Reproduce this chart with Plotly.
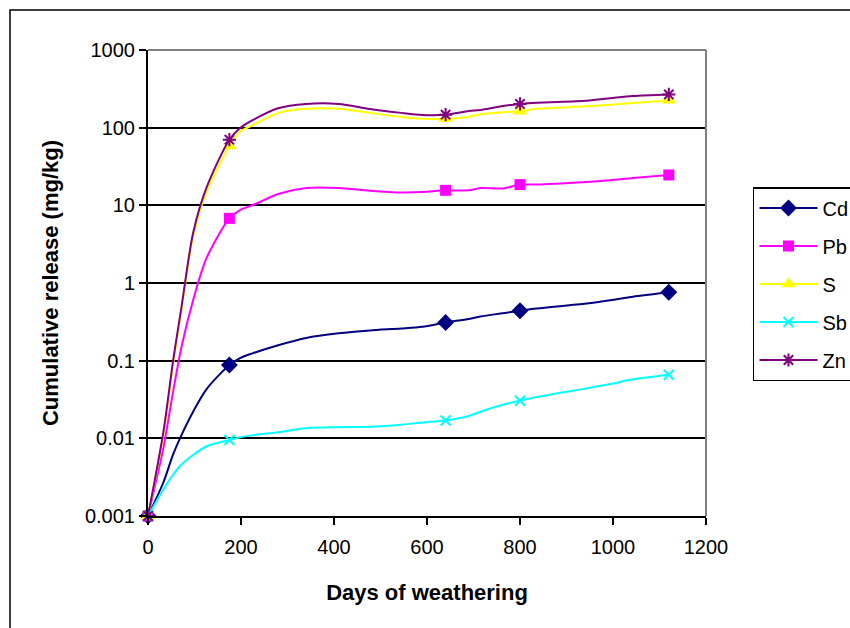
import plotly.graph_objects as go

days = [0, 33, 54, 72, 97, 126, 175, 198, 226, 280, 340, 410, 477, 545, 590,
        640, 690, 715, 763, 800, 836, 943, 994, 1043, 1120]
marker_days = [0, 175, 640, 800, 1120]

cd = [0.001, 0.0027, 0.0062, 0.011, 0.022, 0.043, 0.088, 0.108, 0.125, 0.158, 0.196,
      0.225, 0.245, 0.26, 0.274, 0.31, 0.345, 0.37, 0.408, 0.44, 0.47, 0.545, 0.6, 0.667, 0.76]
pb = [0.001, 0.0075, 0.04, 0.15, 0.6, 2.1, 6.8, 8.7, 10.1, 14, 16.7, 16.7, 15.4, 14.6,
      14.8, 15.6, 15.6, 16.7, 16.5, 18.5, 18.5, 20, 21, 22.5, 24.6]
s = [0.001, 0.011, 0.09, 0.45, 4.0, 15, 58, 89, 108, 155, 175, 175, 155, 137, 130, 130,
     138, 149, 158, 163, 175, 188, 197, 208, 225]
sb = [0.001, 0.0022, 0.0034, 0.0046, 0.0061, 0.0079, 0.0095, 0.0103, 0.011, 0.012, 0.0135,
      0.0139, 0.0141, 0.015, 0.016, 0.017, 0.0194, 0.022, 0.027, 0.0305, 0.034, 0.044,
      0.05, 0.0575, 0.066]
zn = [0.001, 0.012, 0.1, 0.49, 4.4, 17, 70, 99, 126, 178, 202, 202, 174, 155, 146, 147,
      164, 169, 190, 202, 210, 222, 239, 256, 268]

ytick_vals = [0.001, 0.01, 0.1, 1, 10, 100, 1000]
ytick_text = ["0.001", "0.01", "0.1", "1", "10", "100", "1000"]
xtick_vals = [0, 200, 400, 600, 800, 1000, 1200]

series = [
    ("Cd", cd, "#000080", dict(symbol="diamond", size=13, color="#000080")),
    ("Pb", pb, "#FF00FF", dict(symbol="square", size=11, color="#FF00FF")),
    ("S", s, "#FFFF00", dict(symbol="triangle-up", size=13, color="#FFFF00")),
    ("Sb", sb, "#00FFFF", dict(symbol="x-thin", size=10, color="#00FFFF",
                               line=dict(color="#00FFFF", width=2))),
    ("Zn", zn, "#800080", dict(symbol="asterisk", size=11, color="#800080",
                               line=dict(color="#800080", width=2))),
]

fig = go.Figure()
for name, vals, col, mk in series:
    fig.add_trace(go.Scatter(x=days, y=vals, mode="lines",
                             line=dict(color=col, width=2, shape="spline", smoothing=0.8),
                             showlegend=False, hoverinfo="skip", legendgroup=name))
    mx = [d for d in days if d in marker_days]
    my = [v for d, v in zip(days, vals) if d in marker_days]
    fig.add_trace(go.Scatter(x=mx, y=my, mode="markers", marker=mk, showlegend=False,
                             legendgroup=name, cliponaxis=False))
for name, vals, col, mk in series:
    fig.add_trace(go.Scatter(x=[None], y=[None], mode="lines+markers", name=name,
                             line=dict(color=col, width=2), marker=mk, legendgroup=name))

font = "Liberation Sans, Arial, sans-serif"
fig.update_layout(
    width=850, height=628,
    margin=dict(l=148, r=144, t=50, b=112, autoexpand=False),
    paper_bgcolor="white", plot_bgcolor="white",
    font=dict(family=font, size=20, color="black"),
    showlegend=True,
    legend=dict(x=1.0842, y=0.706, xanchor="left", yanchor="top",
                bordercolor="black", borderwidth=1.5, font=dict(size=20),
                tracegroupgap=9, itemwidth=58, traceorder="grouped"),
    xaxis=dict(range=[0, 1200], tickvals=xtick_vals, showgrid=False, zeroline=False,
               showline=True, linecolor="black", linewidth=2, ticks="outside",
               ticklen=7, tickwidth=1.5, tickcolor="black", ticklabelstandoff=5,
               title=dict(text="<b>Days of weathering</b>", font=dict(size=22), standoff=28)),
    yaxis=dict(type="log", range=[-3, 3], tickvals=ytick_vals, ticktext=ytick_text,
               showgrid=True, gridcolor="black", gridwidth=2, zeroline=False,
               showline=True, linecolor="black", linewidth=2, ticks="outside",
               ticklen=7, tickwidth=1.5, tickcolor="black",
               title=dict(text="<b>Cumulative release (mg/kg)</b>", font=dict(size=22), standoff=20)),
    shapes=[
        dict(type="line", xref="paper", yref="paper", x0=0, x1=1, y0=1, y1=1,
             line=dict(color="#808080", width=2), layer="above"),
        dict(type="line", xref="paper", yref="paper", x0=1, x1=1, y0=0, y1=1,
             line=dict(color="#808080", width=2), layer="above"),
        dict(type="rect", xref="paper", yref="paper", x0=(10 - 148) / 558, x1=1.4,
             y0=-0.4, y1=(516 - 10) / 466, line=dict(color="black", width=1.5)),
    ],
)

fig.write_html("out.html")
